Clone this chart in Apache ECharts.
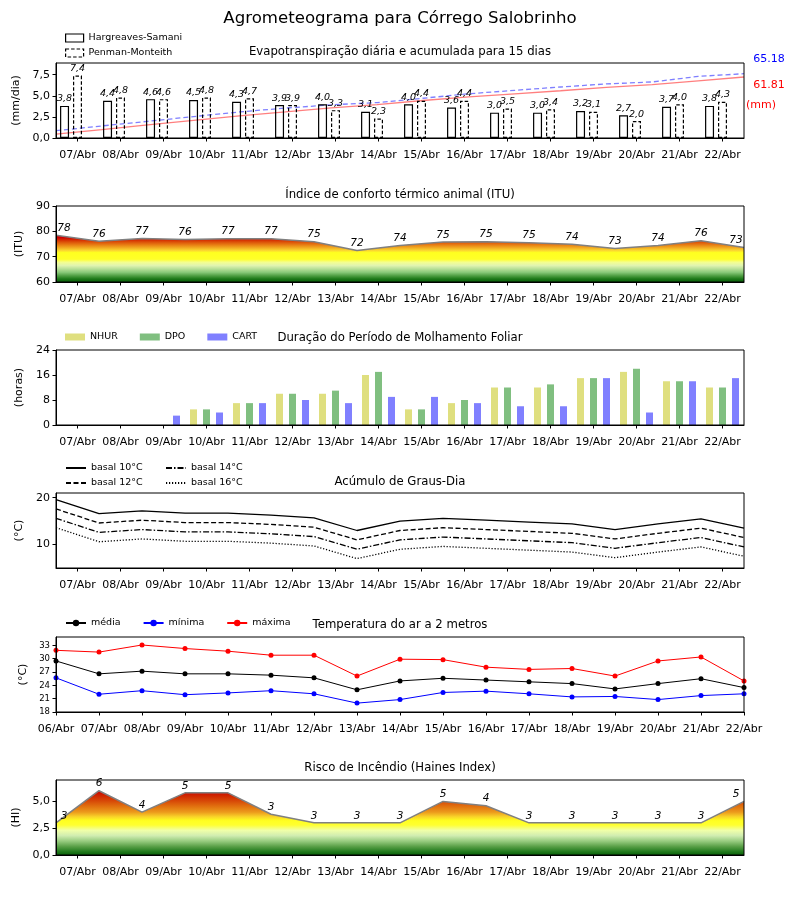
<!DOCTYPE html>
<html><head><meta charset="utf-8">
<script src="https://cdn.jsdelivr.net/npm/echarts@6/dist/echarts.min.js"></script>
<style>html,body{margin:0;padding:0;background:#fff}#c{width:800px;height:900px}</style>
</head><body><div id="c"></div>
<script>
// ---------------- DATA ----------------
const days = ['07/Abr','08/Abr','09/Abr','10/Abr','11/Abr','12/Abr','13/Abr','14/Abr','15/Abr','16/Abr','17/Abr','18/Abr','19/Abr','20/Abr','21/Abr','22/Abr'];
const daysFull = ['06/Abr','07/Abr','08/Abr','09/Abr','10/Abr','11/Abr','12/Abr','13/Abr','14/Abr','15/Abr','16/Abr','17/Abr','18/Abr','19/Abr','20/Abr','21/Abr','22/Abr'];

const etHargreaves = [3.8,4.4,4.6,4.5,4.3,3.9,4.0,3.1,4.0,3.6,3.0,3.0,3.2,2.7,3.7,3.8];
const etPenman     = [7.4,4.8,4.6,4.8,4.7,3.9,3.3,2.3,4.4,4.4,3.5,3.4,3.1,2.0,4.0,4.3];
const accHargreaves = [3.9,8.5,13.3,17.9,22.4,26.4,30.6,33.8,38.0,41.7,44.8,47.9,51.2,54.0,57.9,61.81];
const accPenman     = [7.4,12.2,16.9,21.7,26.4,30.3,33.6,35.9,40.3,44.8,48.3,51.7,54.8,56.8,62.4,65.18];

const itu = [78.5,76.1,77.2,76.8,77.1,77.1,75.9,72.4,74.4,75.8,75.9,75.5,74.9,73.2,74.4,76.3,73.6];

const nhur = [0,0,0,5,7,10,10,16,5,7,12,12,15,17,14,12];
const dpo  = [0,0,0,5,7,10,11,17,5,8,12,13,15,18,14,12];
const cart = [0,0,3,4,7,8,7,9,9,7,6,6,15,4,14,15];

const gdd10 = [19.6,16.6,17.2,16.7,16.7,16.3,15.7,13.0,15.0,15.6,15.2,14.8,14.4,13.2,14.4,15.5,13.5];
const gdd12 = [17.6,14.6,15.2,14.7,14.7,14.3,13.7,11.0,13.0,13.6,13.2,12.8,12.4,11.2,12.4,13.5,11.5];
const gdd14 = [15.6,12.6,13.2,12.7,12.7,12.3,11.7,9.0,11.0,11.6,11.2,10.8,10.4,9.2,10.4,11.5,9.5];
const gdd16 = [13.6,10.6,11.2,10.7,10.7,10.3,9.7,7.0,9.0,9.6,9.2,8.8,8.4,7.2,8.4,9.5,7.5];

const tMed = [29.5,26.6,27.2,26.6,26.6,26.3,25.7,23.0,25.0,25.6,25.2,24.8,24.4,23.2,24.4,25.5,23.5];
const tMin = [25.7,22.0,22.8,21.9,22.3,22.8,22.1,20.0,20.8,22.4,22.7,22.1,21.4,21.5,20.8,21.7,22.1];
const tMax = [31.9,31.5,33.1,32.3,31.7,30.8,30.8,26.1,29.9,29.8,28.1,27.6,27.8,26.1,29.5,30.4,25.0];

const haines = [3.0,6.0,4.0,5.8,5.8,3.8,3.0,3.0,3.0,5.0,4.6,3.0,3.0,3.0,3.0,3.0,5.0];

// ---------------- LAYOUT / STYLE ----------------
const FONT = 'DejaVu Sans';
const G = [{top:63,h:75},{top:206,h:76},{top:350,h:75},{top:493,h:75},{top:637,h:75},{top:780,h:75}];
const GL = 56, GW = 688;
const comma1 = v => v.toFixed(1).replace('.', ',');

const axisLine = {show:true, lineStyle:{color:'#000', width:1}};
const axisTick = {show:true, length:3.5, lineStyle:{color:'#000', width:1}};
const lbl = {color:'#000', fontSize:11, fontFamily:FONT};

function catX(gi, data){
  return {type:'category', gridIndex:gi, data, boundaryGap:true, z:5,
    axisLine, axisTick:Object.assign({}, axisTick, {alignWithLabel:true}),
    axisLabel:Object.assign({}, lbl, {margin:12, interval:0}), splitLine:{show:false}};
}
function lineX(gi, data, visible){
  return {type:'category', gridIndex:gi, data, boundaryGap:false, show:!!visible, z:5,
    axisLine, axisTick:Object.assign({}, axisTick, {interval:0}),
    axisLabel:Object.assign({}, lbl, {margin:12, interval:0}), splitLine:{show:false}};
}
function valY(gi, min, max, name, gap, extra){
  return Object.assign({type:'value', gridIndex:gi, min, max, z:5,
    name, nameLocation:'middle', nameRotate:90, nameGap:gap,
    nameTextStyle:{color:'#000', fontSize:11, fontFamily:FONT},
    axisLine, axisTick, splitLine:{show:false},
    axisLabel:Object.assign({}, lbl, {margin:6})}, extra || {});
}
function gradient(gi, vmin, vmax, stops){
  const g = G[gi];
  return new echarts.graphic.LinearGradient(0, g.top, 0, g.top + g.h,
    stops.map(s => ({offset: Math.min(1, Math.max(0, (vmax - s[0]) / (vmax - vmin))), color: s[1]})), true);
}
function edgeLabels(vals){
  return vals.map((v, i) => {
    const o = {value: v};
    if (i === 0) o.label = {offset:[8, 0]};
    if (i === vals.length - 1) o.label = {offset:[-8, 0]};
    return o;
  });
}

const ituGrad = gradient(1, 60, 90, [
  [90,'#c00000'],[78.5,'#c80000'],[77.5,'#cc0000'],[76.7,'#d42800'],[75.8,'#dc5008'],[75.0,'#e47010'],
  [74.2,'#ec9018'],[73.3,'#f4b424'],[72.4,'#fcd830'],[71.6,'#ffff20'],[69.0,'#ffff28'],[67.8,'#f4ff90'],
  [66.5,'#e0f4b0'],[65.2,'#b8e098'],[63.8,'#88c878'],[62.4,'#4c9c40'],[61.2,'#1c7818'],[60,'#0a5c0a']]);
const hiGrad = gradient(5, 0, 7, [
  [7,'#c00000'],[6.0,'#c80000'],[5.5,'#d02800'],[5.0,'#d84c08'],[4.5,'#e27410'],[4.0,'#ec9a1c'],
  [3.6,'#f8d028'],[3.2,'#ffff20'],[2.8,'#ffff30'],[2.3,'#f0ffa8'],[1.8,'#d0ecb0'],[1.3,'#98cc80'],
  [0.8,'#5aa048'],[0.3,'#207a1c'],[0,'#0a600a']]);

const titleStyle = {fontSize:11.7, fontWeight:'normal', color:'#000', fontFamily:FONT};
function ptitle(text, cy){ return {text, left:'center', top:cy - 5, padding:0, textStyle:titleStyle}; }

const legendText = {color:'#000', fontSize:9.5, fontFamily:FONT};

const barLabel = {show:true, position:'top', distance:2, fontStyle:'italic', fontSize:9.5, color:'#000',
  fontFamily:FONT, formatter: p => comma1(p.value)};
const ptLabel = {show:true, position:'top', distance:1, fontStyle:'italic', fontSize:10.5, color:'#000',
  fontFamily:FONT, formatter: p => String(Math.floor(p.value))};

const option = {
  animation:false,
  backgroundColor:'#fff',
  textStyle:{fontFamily:FONT},
  title:[
    {text:'Agrometeograma para Córrego Salobrinho', left:'center', top:10, padding:0,
     textStyle:{fontSize:16.6, fontWeight:'normal', color:'#000', fontFamily:FONT}},
    ptitle('Evapotranspiração diária e acumulada para 15 dias', 51),
    ptitle('Índice de conforto térmico animal (ITU)', 194),
    ptitle('Duração do Período de Molhamento Foliar', 337),
    ptitle('Acúmulo de Graus-Dia', 481),
    ptitle('Temperatura do ar a 2 metros', 624),
    ptitle('Risco de Incêndio (Haines Index)', 767)
  ],
  legend:[
    {left:65, top:33, padding:0, orient:'vertical', itemGap:5, itemWidth:18, itemHeight:8, textStyle:legendText,
     data:[
       {name:'Hargreaves-Samani', icon:'rect', itemStyle:{color:'#fff', borderColor:'#000', borderWidth:1.2}},
       {name:'Penman-Monteith', icon:'rect', itemStyle:{color:'#fff', borderColor:'#000', borderWidth:1.2, borderType:[3.5,2]}}
     ]},
    {left:65, top:332, padding:0, orient:'horizontal', itemGap:22, itemWidth:20, itemHeight:7, textStyle:legendText,
     data:[{name:'NHUR', icon:'rect'},{name:'DPO', icon:'rect'},{name:'CART', icon:'rect'}]},
    {left:65, top:463, padding:0, orient:'vertical', itemGap:5, itemWidth:20, itemHeight:8, textStyle:legendText,
     itemStyle:{opacity:0}, data:['basal 10°C','basal 12°C']},
    {left:165, top:463, padding:0, orient:'vertical', itemGap:5, itemWidth:20, itemHeight:8, textStyle:legendText,
     itemStyle:{opacity:0}, data:['basal 14°C','basal 16°C']},
    {left:65, top:618, padding:0, orient:'horizontal', itemGap:22, itemWidth:20, itemHeight:8, textStyle:legendText,
     data:['média','mínima','máxima']}
  ],
  grid: G.map(g => ({left:GL, width:GW, top:g.top, height:g.h, show:true, z:10,
    borderColor:'#000', borderWidth:1, backgroundColor:'rgba(0,0,0,0)'})),
  xAxis:[
    catX(0, days),                 // 0
    lineX(0, days),                // 1 cumulative
    catX(1, days),                 // 2
    lineX(1, daysFull),            // 3 ITU points
    catX(2, days),                 // 4
    catX(3, days),                 // 5
    lineX(3, daysFull),            // 6 GDD points
    lineX(4, daysFull, true),      // 7 temperature
    catX(5, days),                 // 8
    lineX(5, daysFull)             // 9 Haines points
  ],
  yAxis:[
    valY(0, 0, 8.88, '(mm/dia)', 30, {
      axisLabel:Object.assign({}, lbl, {margin:6, customValues:[0,2.5,5,7.5], formatter:v=>comma1(v)}),
      axisTick:Object.assign({}, axisTick, {customValues:[0,2.5,5,7.5]})}),
    {type:'value', gridIndex:0, min:0, max:76, show:false},
    valY(1, 60, 90, '(ITU)', 22, {interval:10}),
    valY(2, 0, 24, '(horas)', 22, {interval:8}),
    valY(3, 5, 21, '(°C)', 22, {
      axisLabel:Object.assign({}, lbl, {margin:6, customValues:[10,20]}),
      axisTick:Object.assign({}, axisTick, {customValues:[10,20]})}),
    valY(4, 18, 34.9, '(°C)', 24, {
      axisLabel:Object.assign({}, lbl, {margin:6, fontSize:8.5, customValues:[18,21,24,27,30,33]}),
      axisTick:Object.assign({}, axisTick, {customValues:[18,21,24,27,30,33]})}),
    valY(5, 0, 7, '(HI)', 30, {
      axisLabel:Object.assign({}, lbl, {margin:6, customValues:[0,2.5,5], formatter:v=>comma1(v)}),
      axisTick:Object.assign({}, axisTick, {customValues:[0,2.5,5]})})
  ],
  series:[
    // Panel 1
    {type:'line', name:'acc HS', xAxisIndex:1, yAxisIndex:1, data:accHargreaves, symbol:'none', z:1,
     lineStyle:{color:'rgba(255,0,0,0.5)', width:1.3}},
    {type:'line', name:'acc PM', xAxisIndex:1, yAxisIndex:1, data:accPenman, symbol:'none', z:1,
     lineStyle:{color:'rgba(0,0,255,0.5)', width:1.3, type:[5,3]}},
    {type:'bar', name:'Hargreaves-Samani', xAxisIndex:0, yAxisIndex:0, data:etHargreaves, barWidth:9, barGap:'44%',
     itemStyle:{color:'rgba(255,255,255,0)', borderColor:'#000', borderWidth:1.2}, label:barLabel},
    {type:'bar', name:'Penman-Monteith', xAxisIndex:0, yAxisIndex:0, data:etPenman, barWidth:9, barGap:'44%',
     itemStyle:{color:'rgba(255,255,255,0)', borderColor:'#000', borderWidth:1.2, borderType:[3.5,2]}, label:barLabel},
    {type:'bar', name:'_pad', xAxisIndex:0, yAxisIndex:0, data:[], barWidth:9, barGap:'44%'},
    // Panel 2 ITU
    {type:'line', name:'ITU', xAxisIndex:3, yAxisIndex:2, data:edgeLabels(itu), symbol:'circle', symbolSize:1,
     itemStyle:{color:'rgba(0,0,0,0)'}, lineStyle:{color:'#808080', width:1.5},
     areaStyle:{origin:'start', color:ituGrad, opacity:1}, label:ptLabel},
    // Panel 3
    {type:'bar', name:'NHUR', xAxisIndex:4, yAxisIndex:3, data:nhur, barWidth:7, barGap:'86%', itemStyle:{color:'#dfdf7f'}},
    {type:'bar', name:'DPO', xAxisIndex:4, yAxisIndex:3, data:dpo, barWidth:7, barGap:'86%', itemStyle:{color:'#80bf80'}},
    {type:'bar', name:'CART', xAxisIndex:4, yAxisIndex:3, data:cart, barWidth:7, barGap:'86%', itemStyle:{color:'#8080ff'}},
    // Panel 4
    {type:'line', name:'basal 10°C', xAxisIndex:6, yAxisIndex:4, data:gdd10, symbol:'none', itemStyle:{color:'#000'},
     lineStyle:{color:'#000', width:1.3}},
    {type:'line', name:'basal 12°C', xAxisIndex:6, yAxisIndex:4, data:gdd12, symbol:'none', itemStyle:{color:'#000'},
     lineStyle:{color:'#000', width:1.3, type:[5,2.5]}},
    {type:'line', name:'basal 14°C', xAxisIndex:6, yAxisIndex:4, data:gdd14, symbol:'none', itemStyle:{color:'#000'},
     lineStyle:{color:'#000', width:1.3, type:[6,2,1.5,2]}},
    {type:'line', name:'basal 16°C', xAxisIndex:6, yAxisIndex:4, data:gdd16, symbol:'none', itemStyle:{color:'#000'},
     lineStyle:{color:'#000', width:1.3, type:[1.2,1.8]}},
    // Panel 5
    {type:'line', name:'média', xAxisIndex:7, yAxisIndex:5, data:tMed, symbol:'circle', symbolSize:5,
     itemStyle:{color:'#000'}, lineStyle:{color:'#000', width:1}},
    {type:'line', name:'mínima', xAxisIndex:7, yAxisIndex:5, data:tMin, symbol:'circle', symbolSize:5,
     itemStyle:{color:'#0000ff'}, lineStyle:{color:'#0000ff', width:1}},
    {type:'line', name:'máxima', xAxisIndex:7, yAxisIndex:5, data:tMax, symbol:'circle', symbolSize:5,
     itemStyle:{color:'#ff0000'}, lineStyle:{color:'#ff0000', width:1}},
    // Panel 6
    {type:'line', name:'Haines', xAxisIndex:9, yAxisIndex:6, data:edgeLabels(haines), symbol:'circle', symbolSize:1,
     itemStyle:{color:'rgba(0,0,0,0)'}, lineStyle:{color:'#808080', width:1.5},
     areaStyle:{origin:'start', color:hiGrad, opacity:1}, label:ptLabel}
  ],
  graphic:[
    {type:'text', x:769, y:59, z:100, style:{text:accPenman[accPenman.length-1].toFixed(2), fill:'#0000ff',
      font:'11px "DejaVu Sans"', align:'center', verticalAlign:'middle'}},
    {type:'text', x:769, y:85, z:100, style:{text:accHargreaves[accHargreaves.length-1].toFixed(2), fill:'#ff0000',
      font:'11px "DejaVu Sans"', align:'center', verticalAlign:'middle'}},
    {type:'text', x:761, y:105, z:100, style:{text:'(mm)', fill:'#ff0000',
      font:'11px "DejaVu Sans"', align:'center', verticalAlign:'middle'}}
  ]
};

const chart = echarts.init(document.getElementById('c'), null, {renderer:'canvas'});
chart.setOption(option);
</script>
</body></html>
